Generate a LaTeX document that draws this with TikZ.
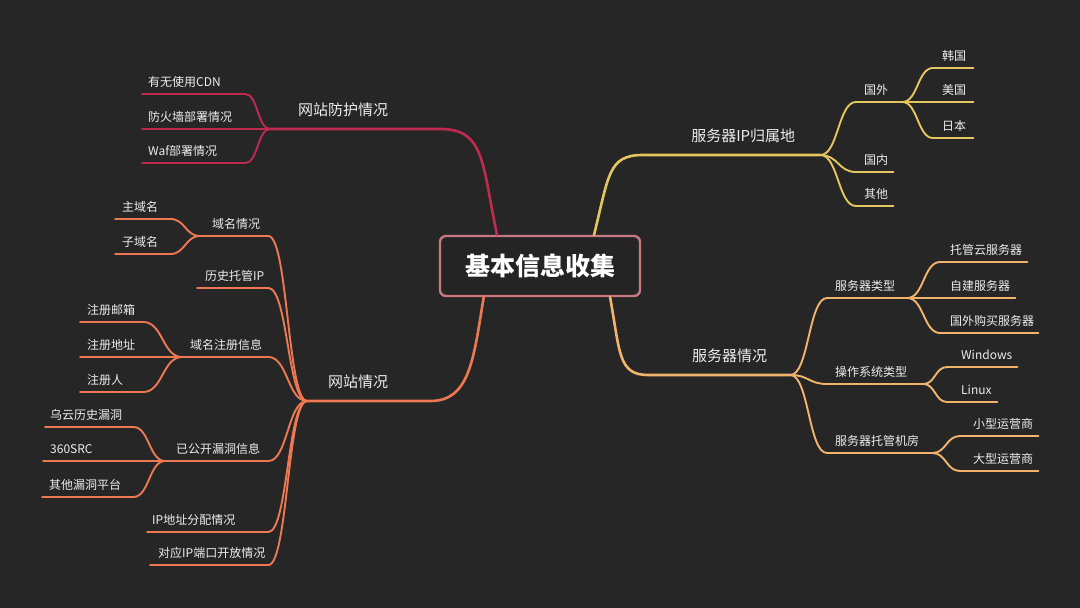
\documentclass[tikz,border=0pt]{standalone}
\usepackage{fontspec}
\setmainfont{Noto Sans CJK SC}
\usepackage{tikz}
\usetikzlibrary{calc}

\definecolor{bgdark}{HTML}{262626}
\definecolor{rootline}{HTML}{C87882}
\definecolor{rootfill}{HTML}{242424}
\definecolor{labelgray}{HTML}{EDEDED}
\definecolor{protectred}{HTML}{BE2A50}
\definecolor{iploc}{HTML}{E4C65E}
\definecolor{srvinfo}{HTML}{F2B46C}
\definecolor{siteinfo}{HTML}{EE7852}

\tikzset{
  root/.style={draw=rootline, line width=2.4pt, fill=rootfill, rounded corners=6pt,
    text=white, font=\fontsize{25}{30}\selectfont\bfseries,
    minimum width=200pt, minimum height=60pt},
  topic/.style={anchor=south west, text=labelgray, font=\fontsize{15}{18}\selectfont,
    text height=11pt, text depth=4pt, inner ysep=9.5pt},
  item/.style={anchor=south west, text=labelgray, font=\fontsize{12}{14}\selectfont,
    text height=9pt, text depth=3pt, inner ysep=4.5pt, inner xsep=8pt, align=left},
  mm/.style={to path={let \p1=(\tikztostart), \p2=(\tikztotarget), \n1={(\x2-\x1)/2} in
    .. controls +(\n1,0) and +(-\n1,0) .. (\tikztotarget)}},
  thick line/.style={line width=2.6pt, line cap=round},
  thin line/.style={line width=1.9pt, line cap=round},
}

\begin{document}
\begin{tikzpicture}[x=1pt,y=-1pt]
  % background
  \fill[bgdark] (0,0) rectangle (1080,608);
  \useasboundingbox (0,0) rectangle (1080,608);

  % centre
  \node[root] (root) at (540,266) {基本信息收集};

  % first level
  \node[topic, align=left, inner xsep=28pt, text width=114pt] (protect) at (270,129) {网站防护情况};
  \node[topic, align=left, inner xsep=21pt, text width=81pt] (site) at (307,401) {网站情况};
  \node[topic, align=right, inner xsep=25pt, text width=127pt] (ipLoc) at (643,155) {服务器IP归属地};
  \node[topic, align=right, inner xsep=23pt, text width=96pt] (server) at (648,375) {服务器情况};

  % website protection
  \node[item, inner xsep=6pt, text width=91pt] (cdn) at (142,94) {有无使用CDN};
  \node[item, inner xsep=6pt, text width=116pt] (firewall) at (142,129) {防火墙部署情况};
  \node[item, inner xsep=6pt, text width=91pt] (waf) at (142,163) {Waf部署情况};

  % website
  \node[item, align=right, text width=52pt] (domain) at (200,236) {域名情况};
  \node[item, align=right, text width=55pt] (histIP) at (197,288) {历史托管IP};
  \node[item, align=right, text width=70pt] (whois) at (182,357) {域名注册信息};
  \node[item, align=right, text width=87pt] (vuln) at (165,461) {已公开漏洞信息};
  \node[item, inner xsep=5pt, text width=111pt] (ipAlloc) at (147,532) {IP地址分配情况};
  \node[item, align=right, text width=102pt] (ports) at (150,565) {对应IP端口开放情况};

  \node[item, inner xsep=7pt, text width=41pt] (mainDom) at (115,219) {主域名};
  \node[item, inner xsep=7pt, text width=41pt] (subDom) at (115,254) {子域名};
  \node[item, inner xsep=7pt, text width=49pt] (regMail) at (80,322) {注册邮箱};
  \node[item, inner xsep=7pt, text width=88pt] (regAddr) at (80,357) {注册地址};
  \node[item, inner xsep=7pt, text width=49pt] (regName) at (80,392) {注册人};
  \node[item, inner xsep=5pt, text width=78pt] (wooyun) at (45,427) {乌云历史漏洞};
  \node[item, inner xsep=7pt, text width=108pt] (src) at (43,461) {360SRC};
  \node[item, inner xsep=7pt, text width=77pt] (otherVuln) at (42,497) {其他漏洞平台};

  % server IP location
  \node[item, text width=30pt] (abroad) at (856,102) {国外};
  \node[item, text width=21pt] (domestic) at (856,172) {国内};
  \node[item, text width=21pt] (otherLoc) at (856,206) {其他};
  \node[item, inner xsep=9pt, text width=22pt] (korea) at (933,68) {韩国};
  \node[item, inner xsep=9pt, text width=22pt] (usa) at (933,102) {美国};
  \node[item, inner xsep=9pt, text width=22pt] (japan) at (933,138) {日本};

  % server
  \node[item, text width=64pt] (srvType) at (827,298) {服务器类型};
  \node[item, text width=80pt] (osType) at (827,384) {操作系统类型};
  \node[item, text width=89pt] (idc) at (827,453) {服务器托管机房};
  \node[item, inner xsep=10pt, text width=67pt] (cloud) at (940,262) {托管云服务器};
  \node[item, inner xsep=10pt, text width=55pt] (selfBuilt) at (940,298) {自建服务器};
  \node[item, inner xsep=10pt, text width=78pt] (foreignSrv) at (940,333) {国外购买服务器};
  \node[item, inner xsep=14pt, text width=42pt] (windows) at (947,367) {Windows};
  \node[item, inner xsep=14pt, text width=22pt] (linux) at (947,402) {Linux};
  \node[item, inner xsep=13pt, text width=52pt] (smallIsp) at (960,436) {小型运营商};
  \node[item, inner xsep=13pt, text width=52pt] (bigIsp) at (960,471) {大型运营商};

  % branches from the centre
  \draw[thick line, protectred] (root.144) .. controls +(-15,-70) and +(45,0) .. (protect.south east) -- (protect.south west);
  \draw[thick line, iploc] (root.30) .. controls +(15,-60) and +(-35,0) .. (ipLoc.south west) -- (ipLoc.south east);
  \draw[thick line, srvinfo] (root.-24) .. controls +(10,55) and +(-30,0) .. (server.south west) -- (server.south east);
  \draw[thick line, siteinfo] (root.209) .. controls +(-10,60) and +(40,0) .. (site.south east) -- (site.south west);

  % protection leaves
  \foreach \leaf in {cdn,firewall,waf}
    \draw[thin line, protectred] (protect.south west) to[mm] (\leaf.south east) -- (\leaf.south west);

  % website children
  \foreach \leaf in {domain,histIP,whois,vuln,ipAlloc,ports}
    \draw[thin line, siteinfo] (site.south west) to[mm] (\leaf.south east) -- (\leaf.south west);
  \foreach \leaf in {mainDom,subDom}
    \draw[thin line, siteinfo] (domain.south west) to[mm] (\leaf.south east) -- (\leaf.south west);
  \foreach \leaf in {regMail,regAddr,regName}
    \draw[thin line, siteinfo] (whois.south west) to[mm] (\leaf.south east) -- (\leaf.south west);
  \foreach \leaf in {wooyun,src,otherVuln}
    \draw[thin line, siteinfo] (vuln.south west) to[mm] (\leaf.south east) -- (\leaf.south west);

  % IP location children
  \foreach \leaf in {abroad,domestic,otherLoc}
    \draw[thin line, iploc] (ipLoc.south east) to[mm] (\leaf.south west) -- (\leaf.south east);
  \foreach \leaf in {korea,usa,japan}
    \draw[thin line, iploc] (abroad.south east) to[mm] (\leaf.south west) -- (\leaf.south east);

  % server children
  \foreach \leaf in {srvType,osType,idc}
    \draw[thin line, srvinfo] (server.south east) to[mm] (\leaf.south west) -- (\leaf.south east);
  \foreach \leaf in {cloud,selfBuilt,foreignSrv}
    \draw[thin line, srvinfo] (srvType.south east) to[mm] (\leaf.south west) -- (\leaf.south east);
  \foreach \leaf in {windows,linux}
    \draw[thin line, srvinfo] (osType.south east) to[mm] (\leaf.south west) -- (\leaf.south east);
  \foreach \leaf in {smallIsp,bigIsp}
    \draw[thin line, srvinfo] (idc.south east) to[mm] (\leaf.south west) -- (\leaf.south east);
\end{tikzpicture}
\end{document}
